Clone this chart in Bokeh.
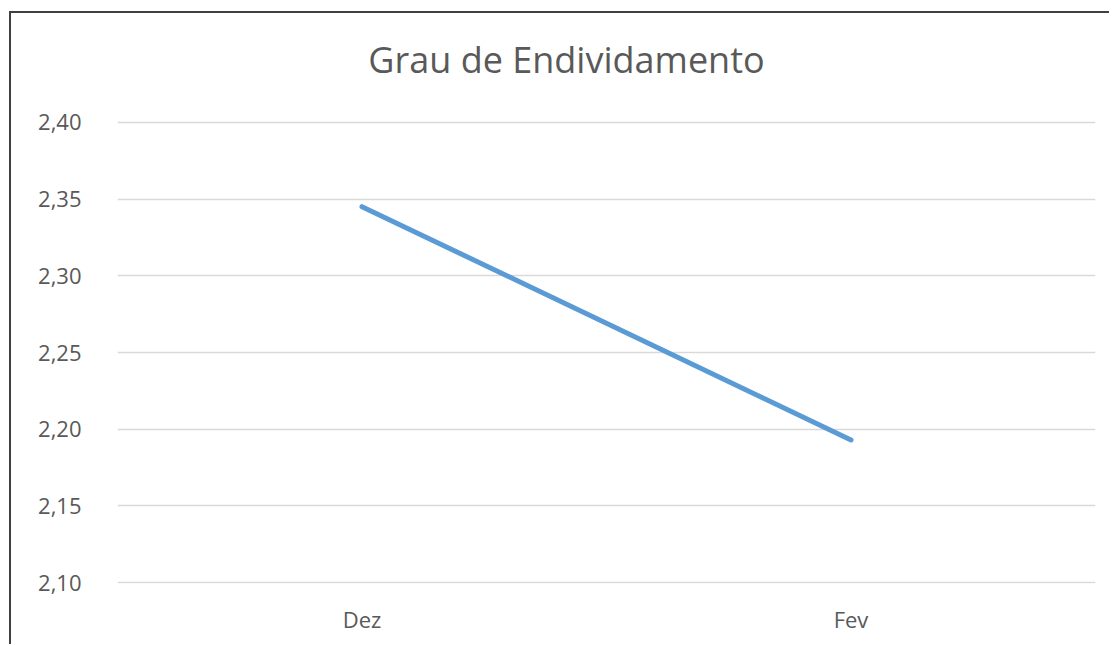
from bokeh.plotting import figure
from bokeh.models import Range1d, FixedTicker, CustomJSTickFormatter, Label
from bokeh.embed import file_html
from bokeh.resources import INLINE

categories = ["Dez", "Fev"]
values = [2.345, 2.193]
y_ticks = [2.10, 2.15, 2.20, 2.25, 2.30, 2.35, 2.40]
title_text = "Grau de Endividamento"

FONT = "Open Sans"
TXT = "#595959"

# layout (pixels)
H, TOP_SPACE, BOTTOM = 633, 108, 63
plot_px = H - TOP_SPACE - BOTTOM          # height of the 2.10..2.40 band
y0, y1 = y_ticks[0] - 0.0005, y_ticks[-1] + 0.0005
y_top = y1 + (y1 - y0) * TOP_SPACE / plot_px  # frame extends up to hold the title

p = figure(
    x_range=categories,
    y_range=Range1d(y0, y_top),
    width=1100, height=H,
    output_backend="svg", toolbar_location=None,
    min_border_left=106, min_border_right=16,
    min_border_top=0, min_border_bottom=BOTTOM,
)
p.styles = {
    "border-left": "2px solid #404040",
    "border-top": "2px solid #404040",
    "margin-left": "9px",
    "margin-top": "11px",
}

title = Label(x=1, y=y_ticks[-1], x_offset=-40, y_offset=63, text=title_text,
              text_align="center", text_baseline="alphabetic",
              text_font=FONT, text_font_size="36px", text_color=TXT)
p.add_layout(title)

p.line(x=categories, y=values, line_color="#5b9bd5", line_width=5, line_cap="round")

p.outline_line_color = None
p.background_fill_color = "white"
p.border_fill_color = "white"

p.xgrid.grid_line_color = None
p.ygrid.grid_line_color = "#d9d9d9"
p.ygrid.grid_line_width = 1.3

p.yaxis.ticker = FixedTicker(ticks=y_ticks)
p.yaxis.formatter = CustomJSTickFormatter(code="return tick.toFixed(2).replace('.', ',');")

for ax in (p.xaxis, p.yaxis):
    ax.axis_line_color = None
    ax.major_tick_line_color = None
    ax.minor_tick_line_color = None
    ax.major_tick_in = 0
    ax.major_tick_out = 0
    ax.major_label_text_font = FONT
    ax.major_label_text_font_size = "22px"
    ax.major_label_text_color = TXT

p.yaxis.major_label_standoff = 36
p.xaxis.major_label_standoff = 20

open("out.html", "w").write(file_html(p, INLINE))
